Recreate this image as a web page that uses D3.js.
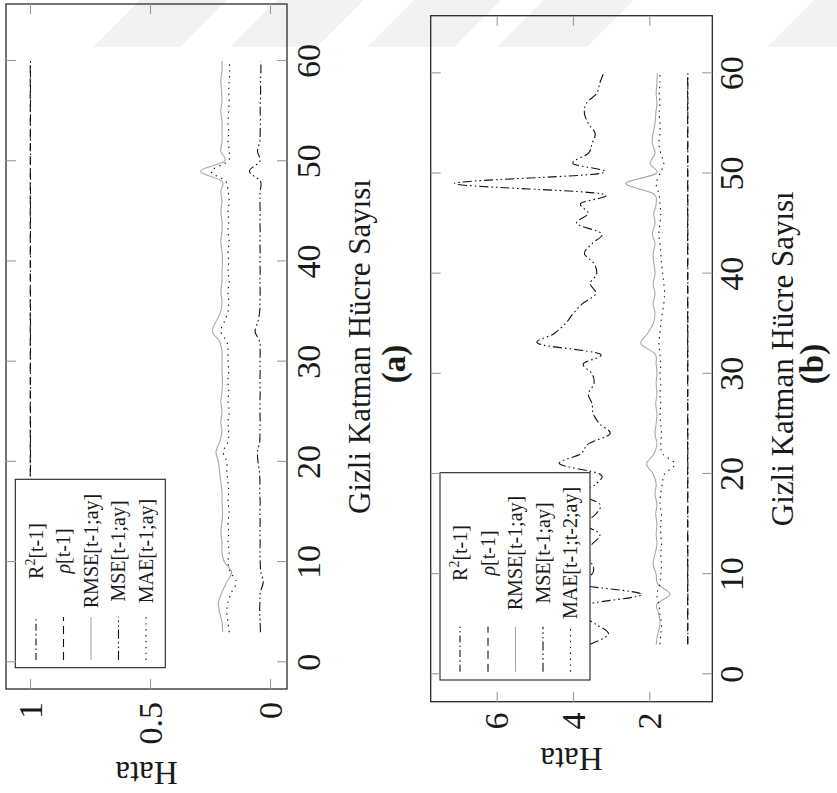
<!DOCTYPE html>
<html><head><meta charset="utf-8">
<script src="https://cdn.jsdelivr.net/npm/d3@7"></script>
<style>
body{margin:0;background:#fff}
svg{display:block}
</style>
</head><body>
<svg id="c" width="837" height="793" font-family="Liberation Serif, Times New Roman, DejaVu Serif, serif"></svg>
<script>
// ---- data ----
const cells = [3,4,5,6,7,8,9,10,11,12,13,14,15,16,17,18,19,20,21,22,23,24,25,26,27,28,29,30,31,32,33,34,35,36,37,38,39,40,41,42,43,44,45,46,47,48,49,50,51,52,53,54,55,56,57,58,59,60];

const r2A = [0.998,0.998,0.998,0.998,0.998,0.998,0.998,0.998,0.998,0.998,0.998,0.998,0.998,0.998,0.998,0.998,0.998,0.998,0.998,0.998,0.998,0.998,0.998,0.998,0.998,0.998,0.998,0.998,0.998,0.998,0.998,0.998,0.998,0.998,0.998,0.998,0.998,0.998,0.998,0.998,0.998,0.998,0.998,0.998,0.998,0.998,0.998,0.998,0.998,0.998,0.998,0.998,0.998,0.998,0.998,0.998,0.998,0.998];
const rhoA = [0.999,0.999,0.999,0.999,0.999,0.999,0.999,0.999,0.999,0.999,0.999,0.999,0.999,0.999,0.999,0.999,0.999,0.999,0.999,0.999,0.999,0.999,0.999,0.999,0.999,0.999,0.999,0.999,0.999,0.999,0.999,0.999,0.999,0.999,0.999,0.999,0.999,0.999,0.999,0.999,0.999,0.999,0.999,0.999,0.999,0.999,0.999,0.999,0.999,0.999,0.999,0.999,0.999,0.999,0.999,0.999,0.999,0.999];
const rmseA = [0.197,0.200,0.210,0.215,0.200,0.180,0.160,0.190,0.200,0.200,
               0.205,0.200,0.198,0.200,0.200,0.205,0.210,0.215,0.225,0.210,
               0.200,0.205,0.200,0.205,0.200,0.198,0.200,0.200,0.200,0.210,
               0.240,0.225,0.205,0.200,0.205,0.200,0.200,0.198,0.200,0.205,
               0.200,0.200,0.205,0.200,0.205,0.200,0.290,0.190,0.205,0.200,
               0.200,0.200,0.205,0.200,0.202,0.205,0.200,0.200];
const mseA = [0.040,0.041,0.043,0.042,0.040,0.028,0.038,0.041,0.042,0.041,
              0.042,0.041,0.042,0.041,0.043,0.042,0.044,0.050,0.052,0.043,
              0.042,0.041,0.042,0.042,0.041,0.042,0.041,0.042,0.041,0.043,
              0.062,0.050,0.043,0.042,0.041,0.042,0.041,0.042,0.041,0.042,
              0.041,0.042,0.041,0.042,0.041,0.040,0.086,0.042,0.052,0.042,
              0.041,0.040,0.041,0.040,0.039,0.040,0.038,0.038];
const maeA = [0.170,0.175,0.180,0.175,0.160,0.140,0.165,0.175,0.170,0.175,
              0.172,0.175,0.170,0.175,0.172,0.175,0.180,0.180,0.195,0.175,
              0.172,0.175,0.170,0.175,0.172,0.175,0.172,0.175,0.175,0.180,
              0.205,0.190,0.175,0.172,0.175,0.170,0.175,0.172,0.175,0.170,
              0.175,0.172,0.175,0.170,0.175,0.185,0.245,0.175,0.170,0.175,
              0.172,0.175,0.172,0.170,0.172,0.170,0.168,0.170];

const r2B = [0.99,0.99,0.99,0.99,0.99,0.99,0.99,0.99,0.99,0.99,0.99,0.99,0.99,0.99,0.99,0.99,0.99,0.99,0.99,0.99,0.99,0.99,0.99,0.99,0.99,0.99,0.99,0.99,0.99,0.99,0.99,0.99,0.99,0.99,0.99,0.99,0.99,0.99,0.99,0.99,0.99,0.99,0.99,0.99,0.99,0.99,0.99,0.99,0.99,0.99,0.99,0.99,0.99,0.99,0.99,0.99,0.99,0.99];
const rhoB = [0.995,0.995,0.995,0.995,0.995,0.995,0.995,0.995,0.995,0.995,0.995,0.995,0.995,0.995,0.995,0.995,0.995,0.995,0.995,0.995,0.995,0.995,0.995,0.995,0.995,0.995,0.995,0.995,0.995,0.995,0.995,0.995,0.995,0.995,0.995,0.995,0.995,0.995,0.995,0.995,0.995,0.995,0.995,0.995,0.995,0.995,0.995,0.995,0.995,0.995,0.995,0.995,0.995,0.995,0.995,0.995,0.995,0.995];
const rmseB = [1.82,1.78,1.72,1.75,1.80,1.46,1.78,1.82,1.90,1.85,
               1.80,1.82,1.80,1.83,1.80,1.85,1.82,1.90,2.07,1.88,
               1.80,1.85,1.82,1.80,1.83,1.80,1.82,1.80,1.82,1.85,
               2.22,2.05,1.90,1.85,1.90,1.85,1.90,1.85,1.88,1.90,
               1.85,1.92,1.85,1.88,1.82,1.90,2.62,1.82,1.98,1.85,
               1.92,1.90,1.85,1.83,1.80,1.82,1.80,1.79];
const mseB = [3.55,3.07,3.40,3.80,3.60,2.20,3.90,3.50,3.50,3.80,
              3.50,3.30,3.70,3.40,3.30,3.80,3.40,3.30,4.35,3.80,
              3.60,3.03,3.30,3.47,3.50,3.60,3.45,3.50,3.73,3.30,
              4.90,4.50,4.20,4.00,3.75,3.40,3.55,3.38,3.45,3.70,
              3.50,3.25,3.90,3.60,3.80,3.30,7.10,3.29,4.00,3.60,
              3.50,3.42,3.60,3.70,3.65,3.38,3.30,3.20];
const maeB = [1.72,1.70,1.68,1.72,1.75,1.80,1.72,1.70,1.68,1.70,
              1.68,1.70,1.70,1.68,1.72,1.70,1.66,1.60,1.33,1.65,
              1.70,1.68,1.70,1.72,1.70,1.72,1.70,1.72,1.70,1.72,
              1.75,1.72,1.70,1.66,1.62,1.60,1.62,1.65,1.68,1.70,
              1.72,1.75,1.72,1.70,1.72,1.75,1.82,1.72,1.62,1.70,
              1.75,1.72,1.72,1.74,1.72,1.74,1.72,1.72];

const xTicks = [0,10,20,30,40,50,60];
const yTicksA = [0,0.5,1];
const yTicksB = [2,4,6];
const legendA = ["R2[t-1]","ρ[t-1]","RMSE[t-1;ay]","MSE[t-1;ay]","MAE[t-1;ay]"];
const legendB = ["R2[t-1]","ρ[t-1]","RMSE[t-1;ay]","MSE[t-1;ay]","MAE[t-1;t-2;ay]"];
const xLabel = "Gizli Katman Hücre Sayısı";
const yLabel = "Hata";
const panelTags = ["(a)","(b)"];

// ---- styles ----
const styles = [
  {stroke:"#111", dash:"7,3,1.6,3"},            // R2 dash-dot
  {stroke:"#111", dash:"8,5"},                  // rho dashed
  {stroke:"#a9a9a9", dash:null},                // RMSE solid gray
  {stroke:"#111", dash:"9,3,1.6,3,1.6,3"},      // MSE dash-dot-dot
  {stroke:"#111", dash:"1.4,4.5"}               // MAE dotted
];
const SERIF = "Liberation Serif, Times New Roman, DejaVu Serif, serif";

const svg = d3.select("#c");

// faint watermark stripes (screen coords)
const stripes = [[93,180],[230,317],[367,454],[497,587],[767,854]];
svg.append("g").selectAll("path").data(stripes).join("path")
  .attr("d", d => `M${d[0]},47 L${d[1]},47 L${d[1]+47},0 L${d[0]+47},0 Z`)
  .attr("fill","#f2f2f2");

// rotated root: original figure drawn in (u,v) coords, then rotated 90° CCW
const root = svg.append("g").attr("transform","translate(0,793) rotate(-90)");

const panels = [
  {series:[r2A,rhoA,rmseA,mseA,maeA], legend:legendA, yTicks:yTicksA, yFmt:d=>d===0.5?"0.5":String(d),
   frame:{l:104,r:789,t:6,b:287}, x0:130.7, x60:732, yDom:[0,1], yRng:[270,30],
   leg:{l:125.3,r:313.7,t:15.3,b:165.3, rows:[36,63.5,91,118.5,146], lx0:133, lx1:176, tx:242},
   tickLabV:320, yTickEnd:91, hataU:20.5, xLabV:370, tagV:405, tagU:429},
  {series:[r2B,rhoB,rmseB,mseB,maeB], legend:legendB, yTicks:yTicksB, yFmt:d=>String(d),
   frame:{l:91.3,r:777.3,t:430.7,b:712.3}, x0:118.7, x60:719.7, yDom:[2,6], yRng:[649.3,496.7],
   leg:{l:113,r:320.3,t:440,b:590, rows:[460,488,515.5,543,570.5], lx0:121.3, lx1:166.3, tx:240},
   tickLabV:743, yTickEnd:80.5, hataU:34, xLabV:793, tagV:823, tagU:429}
];

panels.forEach((p,pi) => {
  const f = p.frame;
  const x = d3.scaleLinear().domain([0,60]).range([p.x0,p.x60]);
  const y = d3.scaleLinear().domain(p.yDom).range(p.yRng);
  const g = root.append("g").attr("font-family",SERIF).attr("fill","#1a1a1a");
  const clipId = "clip"+pi;
  g.append("clipPath").attr("id",clipId).append("rect")
    .attr("x",f.l).attr("y",f.t).attr("width",f.r-f.l).attr("height",f.b-f.t);

  const line = d3.line().x(d=>x(d[0])).y(d=>y(d[1])).curve(d3.curveCardinal.tension(0));
  const lg = g.append("g").attr("clip-path",`url(#${clipId})`);
  p.series.forEach((s,si) => {
    const pts = cells.map((c,i)=>[c,s[i]]);
    lg.append("path").attr("d",line(pts)).attr("fill","none")
      .attr("stroke",styles[si].stroke).attr("stroke-width",1.1)
      .attr("stroke-dasharray",styles[si].dash);
  });

  // legend
  const L = p.leg;
  const legG = g.append("g");
  legG.append("rect").attr("x",L.l).attr("y",L.t).attr("width",L.r-L.l).attr("height",L.b-L.t)
    .attr("fill","#fff").attr("stroke","#222").attr("stroke-width",1.1);
  p.legend.forEach((name,i) => {
    const vy = L.rows[i];
    legG.append("line").attr("x1",L.lx0).attr("x2",L.lx1).attr("y1",vy).attr("y2",vy)
      .attr("stroke",styles[i].stroke).attr("stroke-width",1.1).attr("stroke-dasharray",styles[i].dash);
    const t = legG.append("text").attr("x",L.tx).attr("y",vy).attr("dy","0.33em")
      .attr("text-anchor","middle").attr("font-size",20).attr("font-family",SERIF);
    if (name.startsWith("R2")) {
      t.append("tspan").text("R");
      t.append("tspan").attr("font-size",14).attr("dy","-0.55em").text("2");
      t.append("tspan").attr("dy","0.38em").text(name.slice(2));
    } else if (name.startsWith("ρ")) {
      t.append("tspan").attr("font-style","italic").text("ρ");
      t.append("tspan").text(name.slice(1));
    } else t.text(name);
  });

  // frame
  g.append("rect").attr("x",f.l).attr("y",f.t).attr("width",f.r-f.l).attr("height",f.b-f.t)
    .attr("fill","none").attr("stroke","#2a2a2a").attr("stroke-width",1.3);

  // ticks (inward, all four sides)
  const tickCol = "#9a9a9a";
  const axB = g.append("g").attr("transform",`translate(0,${f.b})`)
    .call(d3.axisBottom(x).tickValues(xTicks).tickSizeInner(-10).tickSizeOuter(0).tickFormat(""));
  const axT = g.append("g").attr("transform",`translate(0,${f.t})`)
    .call(d3.axisTop(x).tickValues(xTicks).tickSizeInner(-10).tickSizeOuter(0).tickFormat(""));
  const axL = g.append("g").attr("transform",`translate(${f.l},0)`)
    .call(d3.axisLeft(y).tickValues(p.yTicks).tickSizeInner(-10).tickSizeOuter(0).tickFormat(""));
  const axR = g.append("g").attr("transform",`translate(${f.r},0)`)
    .call(d3.axisRight(y).tickValues(p.yTicks).tickSizeInner(-10).tickSizeOuter(0).tickFormat(""));
  [axB,axT,axL,axR].forEach(a => {
    a.select(".domain").remove();
    a.selectAll(".tick line").attr("stroke",tickCol).attr("stroke-width",1.1);
  });

  // tick labels
  g.append("g").selectAll("text").data(xTicks).join("text")
    .attr("x",d=>x(d)).attr("y",p.tickLabV).attr("text-anchor","middle")
    .attr("font-family",SERIF).attr("font-size",34).text(d=>d);
  g.append("g").selectAll("text").data(p.yTicks).join("text")
    .attr("x",p.yTickEnd).attr("y",d=>y(d)).attr("dy","0.34em").attr("text-anchor","end")
    .attr("font-family",SERIF).attr("font-size",34).text(p.yFmt);

  // axis labels
  g.append("text").attr("transform",`translate(${p.hataU},${(f.t+f.b)/2}) rotate(-90)`)
    .attr("text-anchor","middle").attr("dy","0.33em").attr("font-family",SERIF).attr("font-size",33).text(yLabel);
  g.append("text").attr("x",(f.l+f.r)/2).attr("y",p.xLabV).attr("text-anchor","middle")
    .attr("font-family",SERIF).attr("font-size",31).text(xLabel);
  g.append("text").attr("x",p.tagU).attr("y",p.tagV).attr("text-anchor","middle")
    .attr("font-family",SERIF).attr("font-size",33).attr("font-weight","bold").text(panelTags[pi]);
});
</script>
</body></html>
